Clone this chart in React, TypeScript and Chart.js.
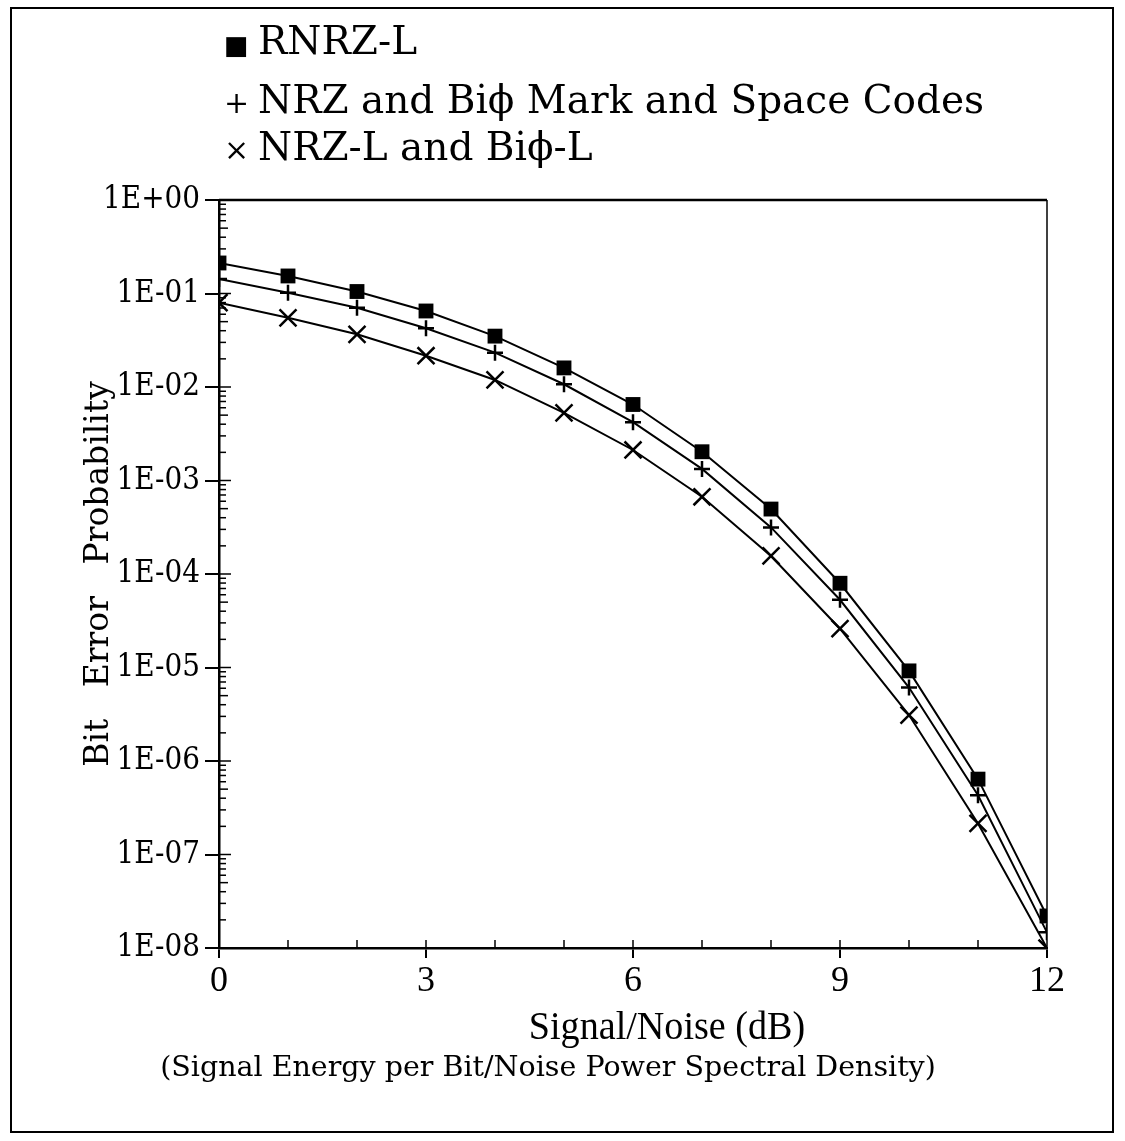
import React, { useEffect, useRef } from 'react';
import { Chart, registerables } from 'chart.js';

Chart.register(...registerables);

// ---- data ----
const SNR_DB = [0, 1, 2, 3, 4, 5, 6, 7, 8, 9, 10, 11, 12];
const RNRZ_L = [2.12e-1, 1.54e-1, 1.05e-1, 6.5e-2, 3.5e-2, 1.6e-2, 6.5e-3, 2.03e-3, 4.95e-4, 7.96e-5, 9.2e-6, 6.4e-7, 2.2e-8];
const NRZ_MARK_SPACE = [1.43e-1, 1.02e-1, 7.05e-2, 4.25e-2, 2.33e-2, 1.07e-2, 4.2e-3, 1.33e-3, 3.15e-4, 5.3e-5, 6.1e-6, 4.3e-7, 1.47e-8];
const NRZ_L = [7.97e-2, 5.5e-2, 3.66e-2, 2.16e-2, 1.19e-2, 5.3e-3, 2.12e-3, 6.7e-4, 1.56e-4, 2.6e-5, 3.1e-6, 2.15e-7, 1.0e-8];

const SERIES_LABELS = ['RNRZ-L', 'NRZ and Biϕ Mark and Space Codes', 'NRZ-L and Biϕ-L'];
const LEGEND_GLYPHS = ['■', '+', '×'];
const X_LABEL_TICKS = [0, 3, 6, 9, 12];
const Y_DECADES = [1, 1e-1, 1e-2, 1e-3, 1e-4, 1e-5, 1e-6, 1e-7, 1e-8];
const Y_TICK_LABELS = ['1E+00', '1E-01', '1E-02', '1E-03', '1E-04', '1E-05', '1E-06', '1E-07', '1E-08'];
const X_TITLE = 'Signal/Noise (dB)';
const X_CAPTION = '(Signal Energy per Bit/Noise Power Spectral Density)';
const Y_TITLE = 'Bit   Error   Probability';

const W = 1125;
const H = 1141;
const AREA = { left: 219, right: 1047, top: 200, bottom: 948 };
const X_SCALE_H = 50;

const framePlugin = {
  id: 'frameAndMinorTicks',
  afterDraw(chart: any) {
    const { ctx, chartArea } = chart;
    const { left, right, top, bottom } = chartArea;
    const ys = chart.scales.y;
    const xs = chart.scales.x;
    ctx.save();
    ctx.strokeStyle = '#000';
    ctx.lineCap = 'butt';
    // top and right borders
    ctx.lineWidth = 2.5;
    ctx.beginPath();
    ctx.moveTo(left, top);
    ctx.lineTo(right, top);
    ctx.stroke();
    ctx.lineWidth = 1.5;
    ctx.beginPath();
    ctx.moveTo(right, top);
    ctx.lineTo(right, bottom);
    ctx.stroke();
    // minor y ticks (inside)
    ctx.lineWidth = 1.5;
    for (let d = -8; d < 0; d++) {
      for (let m = 1; m <= 9; m++) {
        const v = m * Math.pow(10, d);
        const py = ys.getPixelForValue(v);
        const len = m === 1 ? 12 : m === 5 ? 9 : 7;
        ctx.beginPath();
        ctx.moveTo(left, py);
        ctx.lineTo(left + len, py);
        ctx.stroke();
      }
    }
    // minor x ticks (inside)
    for (let i = 1; i < 12; i++) {
      const px = xs.getPixelForValue(i);
      ctx.beginPath();
      ctx.moveTo(px, bottom);
      ctx.lineTo(px, bottom - 8);
      ctx.stroke();
    }
    ctx.restore();
  },
};

function App() {
  const ref = useRef<HTMLCanvasElement | null>(null);

  useEffect(() => {
    if (!ref.current) return;
    const mk = (data: number[]) => SNR_DB.map((x, i) => ({ x, y: data[i] }));
    const chart = new Chart(ref.current, {
      type: 'line',
      data: {
        datasets: [
          {
            label: SERIES_LABELS[0],
            data: mk(RNRZ_L),
            borderColor: '#000',
            backgroundColor: '#000',
            borderWidth: 2,
            pointStyle: 'rect',
            pointRadius: 10.5,
            pointBorderWidth: 0,
            pointBackgroundColor: '#000',
            tension: 0,
          },
          {
            label: SERIES_LABELS[1],
            data: mk(NRZ_MARK_SPACE),
            borderColor: '#000',
            backgroundColor: '#000',
            borderWidth: 2,
            pointStyle: 'cross',
            pointRadius: 8,
            pointBorderWidth: 2.5,
            pointBorderColor: '#000',
            tension: 0,
          },
          {
            label: SERIES_LABELS[2],
            data: mk(NRZ_L),
            borderColor: '#000',
            backgroundColor: '#000',
            borderWidth: 2,
            pointStyle: 'crossRot',
            pointRadius: 12,
            pointBorderWidth: 2.5,
            pointBorderColor: '#000',
            tension: 0,
          },
        ],
      },
      options: {
        animation: false,
        responsive: false,
        maintainAspectRatio: false,
        devicePixelRatio: 1,
        layout: {
          padding: {
            left: 0,
            top: AREA.top,
            right: W - AREA.right,
            bottom: H - AREA.bottom - X_SCALE_H,
          },
        },
        plugins: {
          legend: { display: false },
          tooltip: { enabled: false },
        },
        scales: {
          x: {
            type: 'linear',
            min: 0,
            max: 12,
            afterBuildTicks: (s: any) => {
              s.ticks = SNR_DB.map((v) => ({ value: v }));
            },
            afterFit: (s: any) => {
              s.height = X_SCALE_H;
            },
            ticks: {
              autoSkip: false,
              maxRotation: 0,
              color: '#000',
              padding: 2,
              font: { family: "'Liberation Serif', serif", size: 36 },
              callback: (v: any) => (X_LABEL_TICKS.includes(Number(v)) ? String(v) : ''),
            },
            grid: {
              drawOnChartArea: false,
              drawTicks: true,
              tickLength: 10,
              lineWidth: 2,
              tickColor: (c: any) => (c.tick && X_LABEL_TICKS.includes(c.tick.value) ? '#000' : 'rgba(0,0,0,0)'),
            },
            border: { display: true, color: '#000', width: 2.5 },
          },
          y: {
            type: 'logarithmic',
            min: 1e-8,
            max: 1,
            afterBuildTicks: (s: any) => {
              s.ticks = Y_DECADES.map((v) => ({ value: v }));
            },
            afterFit: (s: any) => {
              s.width = AREA.left;
            },
            ticks: {
              autoSkip: false,
              color: '#000',
              padding: 5,
              font: { family: "'DejaVu Serif Condensed', 'DejaVu Serif', serif", size: 31 },
              callback: (v: any) => {
                const idx = Math.round(-Math.log10(Number(v)));
                return Y_TICK_LABELS[idx] ?? '';
              },
            },
            grid: {
              drawOnChartArea: false,
              drawTicks: true,
              tickLength: 14,
              lineWidth: 2,
              tickColor: '#000',
            },
            border: { display: true, color: '#000', width: 2.5 },
            title: {
              display: true,
              text: Y_TITLE,
              color: '#000',
              font: { family: "'DejaVu Serif', serif", size: 33 },
              padding: { top: 80, bottom: 0 },
            },
          },
        },
      },
      plugins: [framePlugin],
    });
    return () => chart.destroy();
  }, []);

  const legendTops = [18, 77, 124];
  return (
    <div style={{ position: 'absolute', left: 0, top: 0, width: W, height: H, background: '#fff', overflow: 'hidden' }}>
      <canvas ref={ref} width={W} height={H} style={{ position: 'absolute', left: 0, top: 0, width: W, height: H }} />
      <div
        style={{
          position: 'absolute',
          left: 10,
          top: 7,
          width: 1104,
          height: 1126,
          border: '2.5px solid #000',
          boxSizing: 'border-box',
          pointerEvents: 'none',
        }}
      />
      {SERIES_LABELS.map((label, i) => (
        <div
          key={label}
          style={{
            position: 'absolute',
            left: 224,
            top: legendTops[i],
            fontFamily: "'DejaVu Serif', serif",
            fontSize: 39,
            lineHeight: '46px',
            whiteSpace: 'nowrap',
            color: '#000',
          }}
        >
          <span style={{ display: 'inline-block', width: 34, fontSize: i === 0 ? 26 : 30 }}>{LEGEND_GLYPHS[i]}</span>
          {label}
        </div>
      ))}
      <div
        style={{
          position: 'absolute',
          left: 667 - 250,
          width: 500,
          top: 1002,
          textAlign: 'center',
          fontFamily: "'Liberation Serif', serif",
          fontSize: 41,
          lineHeight: '46px',
          transform: 'scaleX(0.93)',
          color: '#000',
          whiteSpace: 'nowrap',
        }}
      >
        {X_TITLE}
      </div>
      <div
        style={{
          position: 'absolute',
          left: 548 - 450,
          width: 900,
          top: 1047,
          textAlign: 'center',
          fontFamily: "'DejaVu Serif', serif",
          fontSize: 28.5,
          lineHeight: '40px',
          color: '#000',
          whiteSpace: 'nowrap',
        }}
      >
        {X_CAPTION}
      </div>
    </div>
  );
}

export default App;
